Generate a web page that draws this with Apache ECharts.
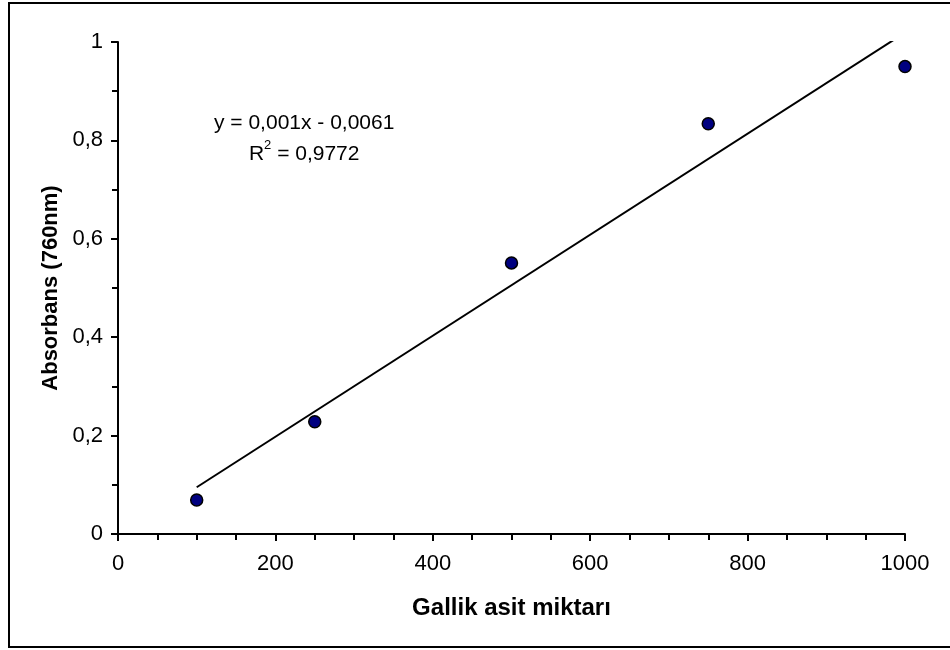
<!DOCTYPE html>
<html lang="tr">
<head>
    <meta charset="UTF-8">
    <meta name="viewport" content="width=device-width, initial-scale=1.0">
    <title>Gallik asit kalibrasyon</title>
    <style>
        html, body { margin: 0; padding: 0; background: #fff; }
        #chart { width: 950px; height: 650px; }
    </style>
</head>
<body>
    <div id="chart"></div>
    <script src="https://cdn.jsdelivr.net/npm/echarts@6/dist/echarts.min.js"></script>
    <script>
        // veri
        var concentrations = [100, 250, 500, 750, 1000];
        var absorbance = [0.069, 0.228, 0.551, 0.834, 0.950];
        // trend çizgisi uç noktaları (y > 1 kısmı kırpılır)
        var trendX = [100, 1000];
        var trendY = [0.095, 1.019];
        var equationText = 'y = 0,001x - 0,0061';
        var r2Text = '0,9772';

        var font = "'Liberation Sans', Arial, sans-serif";

        var points = concentrations.map(function (x, i) { return [x, absorbance[i]]; });
        var trend = trendX.map(function (x, i) { return [x, trendY[i]]; });

        var myChart = echarts.init(document.getElementById('chart'));
        var option = {
            animation: false,
            backgroundColor: '#fff',
            grid: { left: 118, right: 45, top: 42, bottom: 116 },
            xAxis: {
                type: 'value',
                min: 0, max: 1000, interval: 200,
                name: 'Gallik asit miktarı',
                nameLocation: 'middle',
                nameGap: 62,
                nameTextStyle: { fontFamily: font, fontSize: 24, fontWeight: 'bold', color: '#000' },
                axisLine: { lineStyle: { color: '#000', width: 2 } },
                axisTick: { length: 7, lineStyle: { color: '#000', width: 2 } },
                minorTick: { show: true, splitNumber: 4, length: 6, lineStyle: { color: '#000', width: 2 } },
                axisLabel: {
                    margin: 19, fontFamily: font, fontSize: 22, color: '#000',
                    formatter: function (v) { return String(v); }
                },
                splitLine: { show: false }
            },
            yAxis: {
                type: 'value',
                min: 0, max: 1, interval: 0.2,
                name: 'Absorbans (760nm)',
                nameLocation: 'middle',
                nameGap: 56,
                nameTextStyle: { fontFamily: font, fontSize: 22, fontWeight: 'bold', color: '#000' },
                axisLine: { show: true, lineStyle: { color: '#000', width: 2 } },
                axisTick: { show: true, length: 7, lineStyle: { color: '#000', width: 2 } },
                minorTick: { show: true, splitNumber: 2, length: 6, lineStyle: { color: '#000', width: 2 } },
                axisLabel: {
                    margin: 15, fontFamily: font, fontSize: 22, color: '#000',
                    formatter: function (v) { return String(+v.toFixed(1)).replace('.', ','); }
                },
                splitLine: { show: false }
            },
            series: [
                {
                    // doğrusal trend
                    type: 'line',
                    data: trend,
                    clip: true,
                    symbol: 'none',
                    lineStyle: { color: '#000', width: 2 },
                    z: 2
                },
                {
                    type: 'scatter',
                    data: points,
                    symbolSize: 12,
                    itemStyle: { color: '#000080', borderColor: '#000', borderWidth: 1.5, opacity: 1 },
                    z: 3
                }
            ],
            graphic: [
                {
                    // dış çerçeve
                    type: 'rect',
                    shape: { x: 9, y: 3, width: 960, height: 644 },
                    style: { fill: 'none', stroke: '#000', lineWidth: 2 },
                    silent: true
                },
                {
                    // denklem ve R²
                    type: 'text',
                    left: 214,
                    top: 113,
                    style: {
                        text: '{a|' + equationText + '}\n{a|R}{sup|2}{a| = ' + r2Text + '}',
                        align: 'center',
                        rich: {
                            a: { fontFamily: font, fontSize: 21, color: '#000', lineHeight: 31, align: 'center' },
                            sup: { fontFamily: font, fontSize: 13, color: '#000', lineHeight: 14, verticalAlign: 'top' }
                        }
                    }
                }
            ]
        };
        myChart.setOption(option);
    </script>
</body>
</html>
